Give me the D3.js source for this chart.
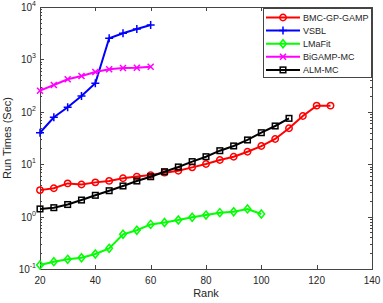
<!DOCTYPE html>
<html>
<head>
<meta charset="utf-8">
<script src="https://cdn.jsdelivr.net/npm/d3@7"></script>
<style>
  body { margin: 0; background: #fff; }
  svg { display: block; font-family: "Liberation Sans", Arial, sans-serif; }
</style>
</head>
<body>
<svg id="chart" width="383" height="303"></svg>
<script>
// ranks (x values) per method
const ranksBMC = [20, 25, 30, 35, 40, 45, 50, 55, 60, 65, 70, 75, 80, 85, 90, 95, 100, 105, 110, 115, 120, 125];
const ranksShort = [20, 25, 30, 35, 40, 45, 50, 55, 60];
const ranksLMaFit = [20, 25, 30, 35, 40, 45, 50, 55, 60, 65, 70, 75, 80, 85, 90, 95, 100];
const ranksALM = [20, 25, 30, 35, 40, 45, 50, 55, 60, 65, 70, 75, 80, 85, 90, 95, 100, 105, 110];

// run times (sec)
const timesBMC = [3.2, 3.47, 4.3, 4.1, 4.5, 4.8, 5.4, 5.8, 6.2, 6.9, 7.5, 8.7, 10.1, 12, 13.9, 17.3, 22.2, 30.3, 48.4, 83, 131, 131];
const timesVSBL = [39.9, 78.5, 122, 200, 350, 2530, 3150, 3800, 4530];
const timesLMaFit = [0.119, 0.138, 0.153, 0.164, 0.193, 0.248, 0.46, 0.55, 0.71, 0.77, 0.86, 0.97, 1.07, 1.19, 1.24, 1.40, 1.12];
const timesBiGAMP = [253, 325, 417, 482, 575, 648, 685, 695, 726];
const timesALM = [1.40, 1.48, 1.70, 2.07, 2.55, 3.12, 3.84, 4.78, 5.77, 7.19, 8.85, 11.2, 13.9, 18.1, 22.3, 29, 39.9, 53.6, 75];

const xTicks = [20, 40, 60, 80, 100, 120, 140];
const yMajor = [0.1, 1, 10, 100, 1000, 10000];
const yExp = ['-1', '0', '1', '2', '3', '4'];

const series = [
  { name: 'BMC-GP-GAMP', color: '#ff0000', marker: 'circle', x: ranksBMC, y: timesBMC },
  { name: 'VSBL', color: '#0000ff', marker: 'plus', x: ranksShort, y: timesVSBL },
  { name: 'LMaFit', color: '#00ff00', marker: 'diamond', x: ranksLMaFit, y: timesLMaFit },
  { name: 'BiGAMP-MC', color: '#ff00ff', marker: 'cross', x: ranksShort, y: timesBiGAMP },
  { name: 'ALM-MC', color: '#000000', marker: 'square', x: ranksALM, y: timesALM }
];

const plotLeft = 40, plotRight = 372, plotTop = 7, plotBottom = 269;
const axisColor = '#444';
const textColor = '#262626';

const svg = d3.select('#chart');

const x = d3.scaleLinear().domain([20, 140]).range([plotLeft, plotRight]);
const y = d3.scaleLog().domain([0.1, 10000]).range([plotBottom, plotTop]);

// box
svg.append('rect')
  .attr('x', plotLeft + 0.5).attr('y', plotTop + 0.5)
  .attr('width', plotRight - plotLeft).attr('height', plotBottom - plotTop)
  .attr('fill', '#fff').attr('stroke', axisColor).attr('stroke-width', 1);

// x ticks, bottom and top
const xt = svg.append('g').attr('stroke', axisColor).attr('stroke-width', 1);
xTicks.forEach(v => {
  const px = Math.round(x(v)) + 0.5;
  xt.append('line').attr('x1', px).attr('x2', px).attr('y1', plotBottom).attr('y2', plotBottom - 4);
  xt.append('line').attr('x1', px).attr('x2', px).attr('y1', plotTop).attr('y2', plotTop + 4);
});
svg.append('g').selectAll('text')
  .data(xTicks).enter().append('text')
  .attr('x', d => x(d)).attr('y', plotBottom + 15)
  .attr('text-anchor', 'middle')
  .attr('font-size', 10).attr('fill', textColor)
  .text(d => d);

// y ticks (log, major + minor) on both sides
const yt = svg.append('g').attr('stroke', axisColor).attr('stroke-width', 1);
y.ticks().forEach(v => {
  const major = yMajor.some(m => Math.abs(m - v) / m < 1e-6);
  const len = major ? 4 : 2;
  const py = Math.round(y(v)) + 0.5;
  yt.append('line').attr('x1', plotLeft).attr('x2', plotLeft + len).attr('y1', py).attr('y2', py);
  yt.append('line').attr('x1', plotRight).attr('x2', plotRight - len).attr('y1', py).attr('y2', py);
});
const yl = svg.append('g').selectAll('text')
  .data(yMajor).enter().append('text')
  .attr('x', 36).attr('y', d => y(d) + 4)
  .attr('text-anchor', 'end')
  .attr('font-size', 10).attr('fill', textColor);
yl.append('tspan').text('10');
yl.append('tspan').attr('font-size', 7).attr('dy', -5).text((d, i) => yExp[i]);

// axis titles
svg.append('text')
  .attr('x', (plotLeft + plotRight) / 2).attr('y', 297)
  .attr('text-anchor', 'middle').attr('font-size', 11).attr('fill', textColor)
  .text('Rank');
svg.append('text')
  .attr('transform', `translate(11, ${(plotTop + plotBottom) / 2}) rotate(-90)`)
  .attr('text-anchor', 'middle').attr('font-size', 11).attr('fill', textColor)
  .text('Run Times (Sec)');

// marker drawing
const drawMarker = (g, type, color) => {
  let el;
  if (type === 'circle') el = g.append('circle').attr('r', 3.2);
  if (type === 'square') el = g.append('rect').attr('x', -2.8).attr('y', -2.8).attr('width', 5.6).attr('height', 5.6);
  if (type === 'diamond') el = g.append('path').attr('d', 'M0,-4L3.3,0L0,4L-3.3,0Z');
  if (type === 'plus') el = g.append('path').attr('d', 'M-4,0H4M0,-4V4');
  if (type === 'cross') el = g.append('path').attr('d', 'M-3,-3L3,3M-3,3L3,-3');
  el.attr('stroke', color).attr('stroke-width', 1.5).attr('fill', 'none');
};

const line = d3.line().x(d => x(d[0])).y(d => y(d[1]));

series.forEach(s => {
  const pts = s.x.map((v, i) => [v, s.y[i]]);
  const g = svg.append('g');
  g.append('path').datum(pts)
    .attr('d', line).attr('fill', 'none')
    .attr('stroke', s.color).attr('stroke-width', 2);
  pts.forEach(p => {
    const mg = g.append('g').attr('transform', `translate(${x(p[0])},${y(p[1])})`);
    drawMarker(mg, s.marker, s.color);
  });
});

// legend
const lg = svg.append('g');
lg.append('rect')
  .attr('x', 263.5).attr('y', 8.5).attr('width', 108).attr('height', 69)
  .attr('fill', '#fff').attr('stroke', axisColor).attr('stroke-width', 1);
series.forEach((s, i) => {
  const ly = 17.5 + i * 13.1;
  lg.append('line').attr('x1', 266).attr('x2', 300).attr('y1', ly).attr('y2', ly)
    .attr('stroke', s.color).attr('stroke-width', 2);
  drawMarker(lg.append('g').attr('transform', `translate(283,${ly})`), s.marker, s.color);
  lg.append('text').attr('x', 303).attr('y', ly + 3.3)
    .attr('font-size', 9).attr('fill', textColor).text(s.name);
});
</script>
</body>
</html>
